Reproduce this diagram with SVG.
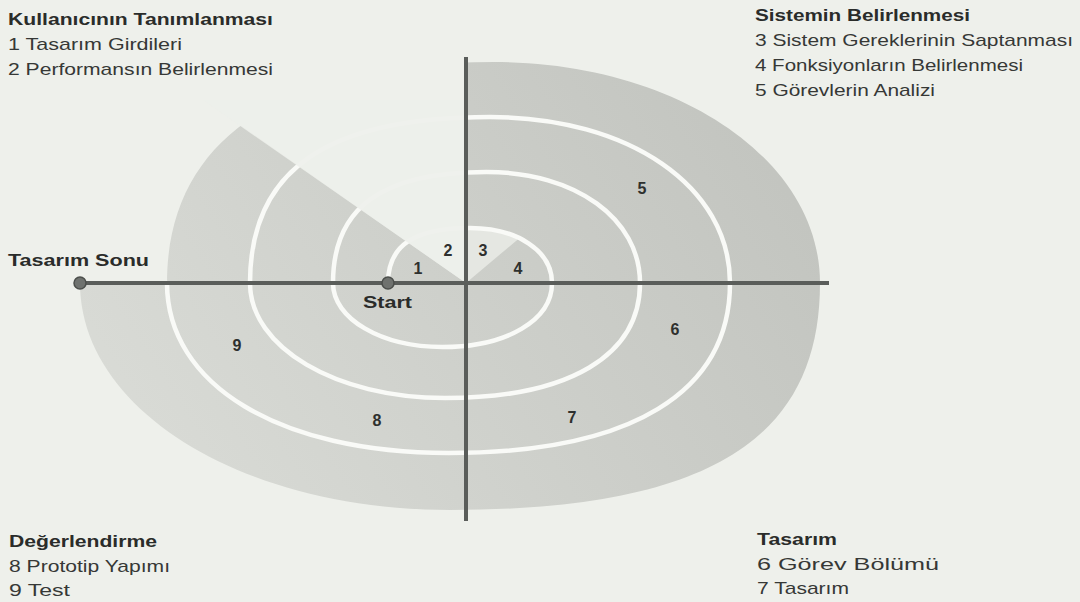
<svg xmlns="http://www.w3.org/2000/svg" width="1080" height="602" viewBox="0 0 1080 602">
  <style>
    .t{font-family:"Liberation Sans",Arial,sans-serif;font-size:17px;fill:#363836}
    .b{font-weight:bold;fill:#2a2c2a}
    .n{font-family:"Liberation Sans",Arial,sans-serif;font-size:16px;font-weight:bold;fill:#2e302e;text-anchor:middle}
    .wl{fill:none;stroke:#f9faf7;stroke-width:4.5;stroke-linecap:round}
    .ax{stroke:#5a5d5a;stroke-width:4;fill:none}
    .dot{fill:#6f726f;stroke:#4c4f4c;stroke-width:1.5}
  </style>
  <defs>
    <linearGradient id="gray" gradientUnits="userSpaceOnUse" x1="150" y1="480" x2="760" y2="90">
      <stop offset="0" stop-color="#d9dbd6"/>
      <stop offset="1" stop-color="#c2c4bf"/>
    </linearGradient>
    <clipPath id="noWedge">
      <polygon points="466,283 466,0 1080,0 1080,602 0,602 0,0 61,0"/>
    </clipPath>
    <clipPath id="wedge3">
      <polygon points="466,283 466,150 624,150"/>
    </clipPath>
  </defs>

  <rect width="1080" height="602" fill="#eef0eb"/>

  <g id="spiral">
    <path clip-path="url(#noWedge)" fill="url(#gray)" d="M167,283 C167,139.3 281.3,62 493.5,62 C676.3,62 820,159.2 820,283 C820,437 712,510 450,510 C242.8,510 80,410.1 80,283 Z"/>
    <path clip-path="url(#wedge3)" fill="#e5e7e2" d="M388,283 C388,245.6 414.2,228 470,228 C517.6,228 552,251.1 552,283 Z"/>
    <path class="wl" d="M388,283 C388,245.6 414.2,228 470,228 C517.6,228 552,251.1 552,283 C552,320 507,347 442.5,347 C381.2,347 333,318.8 333,283 C333,207.5 382.1,172 486.5,172 C575.5,172 640,218.6 640,283 C640,355 570,398 445,398 C335.8,398 250,347.4 250,283 C250,170.1 326.8,117 490,117 C629.2,117 730,186.7 730,283 C730,392 632,453 448.5,453 C279.6,453 167,385 167,283"/>
    <polygon points="466,283 466,100 203,100" fill="#edefea" opacity="0.82"/>
  </g>

  <g id="connectors">
    <line class="ax" x1="466" y1="57" x2="466" y2="521"/>
    <line class="ax" x1="80" y1="283" x2="829" y2="283"/>
  </g>

  <g id="node-tasarim-sonu">
    <circle class="dot" cx="80" cy="283" r="6"/>
    <text class="t b" x="8" y="266" textLength="141" lengthAdjust="spacingAndGlyphs">Tasarım Sonu</text>
  </g>
  <g id="node-start">
    <circle class="dot" cx="388" cy="283" r="6"/>
    <text class="t b" x="363" y="308" textLength="49" lengthAdjust="spacingAndGlyphs">Start</text>
  </g>

  <g id="steps">
    <text class="n" x="418" y="274">1</text>
    <text class="n" x="448" y="256">2</text>
    <text class="n" x="483" y="256">3</text>
    <text class="n" x="518" y="274">4</text>
    <text class="n" x="642" y="194">5</text>
    <text class="n" x="675" y="335">6</text>
    <text class="n" x="572" y="423">7</text>
    <text class="n" x="377" y="426">8</text>
    <text class="n" x="237" y="351">9</text>
  </g>

  <g id="node-kullanici">
    <text class="t b" x="8" y="25" textLength="265" lengthAdjust="spacingAndGlyphs">Kullanıcının Tanımlanması</text>
    <text class="t" x="8" y="50" textLength="174" lengthAdjust="spacingAndGlyphs">1 Tasarım Girdileri</text>
    <text class="t" x="8" y="75" textLength="265" lengthAdjust="spacingAndGlyphs">2 Performansın Belirlenmesi</text>
  </g>
  <g id="node-sistem">
    <text class="t b" x="755" y="21" textLength="215" lengthAdjust="spacingAndGlyphs">Sistemin Belirlenmesi</text>
    <text class="t" x="755" y="46" textLength="318" lengthAdjust="spacingAndGlyphs">3 Sistem Gereklerinin Saptanması</text>
    <text class="t" x="755" y="71" textLength="268" lengthAdjust="spacingAndGlyphs">4 Fonksiyonların Belirlenmesi</text>
    <text class="t" x="755" y="96" textLength="180" lengthAdjust="spacingAndGlyphs">5 Görevlerin Analizi</text>
  </g>
  <g id="node-degerlendirme">
    <text class="t b" x="9" y="547" textLength="148" lengthAdjust="spacingAndGlyphs">Değerlendirme</text>
    <text class="t" x="9" y="572" textLength="161" lengthAdjust="spacingAndGlyphs">8 Prototip Yapımı</text>
    <text class="t" x="9" y="596" textLength="61" lengthAdjust="spacingAndGlyphs">9 Test</text>
  </g>
  <g id="node-tasarim">
    <text class="t b" x="757" y="545" textLength="80" lengthAdjust="spacingAndGlyphs">Tasarım</text>
    <text class="t" x="757" y="570" textLength="182" lengthAdjust="spacingAndGlyphs">6 Görev Bölümü</text>
    <text class="t" x="757" y="594" textLength="92" lengthAdjust="spacingAndGlyphs">7 Tasarım</text>
  </g>
</svg>
